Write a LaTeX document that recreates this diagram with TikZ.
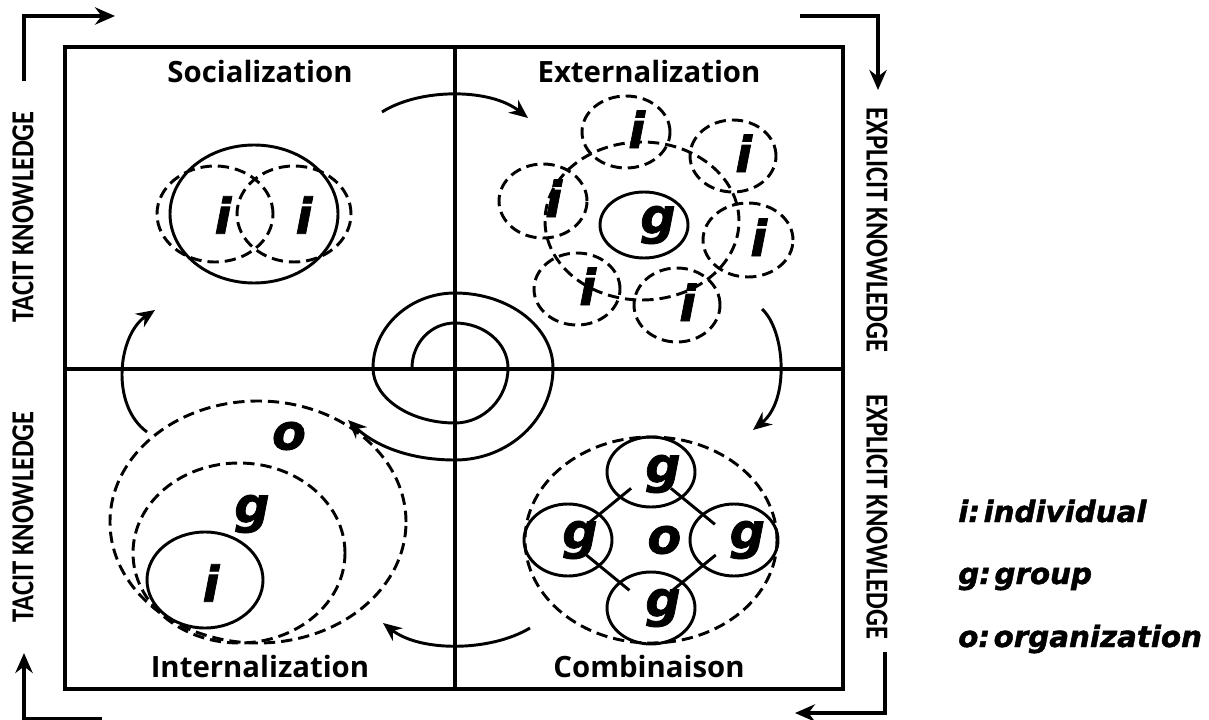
\documentclass[tikz,border=0pt]{standalone}
\usepackage{fontspec}
\usepackage{tikz}
\usetikzlibrary{shapes.geometric, arrows.meta, calc}
\newfontfamily\titlefont{Open Sans}
\newfontfamily\axisfont{Carlito}[FakeStretch=0.83]
\newfontfamily\letterfont{DejaVu Sans}[BoldItalicFeatures={FakeBold=1.5}]
\newcommand{\bigletter}{\letterfont\bfseries\itshape\fontsize{37}{37}\selectfont}

\begin{document}
\begin{tikzpicture}[
    x=0.75pt, y=-0.75pt,
    frame/.style={line width=2.6pt},
    ring/.style 2 args={draw, ellipse, line width=2.2pt, inner sep=0pt,
                        minimum width=#1*1.5pt, minimum height=#2*1.5pt},
    dashring/.style 2 args={ring={#1}{#2}, dash pattern=on 8.5pt off 4.5pt},
    letter/.style={font=\bigletter, inner sep=0pt},
    title/.style={font=\titlefont\bfseries\fontsize{22}{22}\selectfont, anchor=base},
    axis/.style={font=\axisfont\bfseries\fontsize{24}{24}\selectfont},
    legend/.style={font=\letterfont\bfseries\itshape\fontsize{22}{22}\selectfont,
                   anchor=base west, inner sep=0pt},
    link/.style={line width=2.2pt},
    flow/.style={line width=2.2pt, -{Stealth[length=14pt, width=12pt]}},
    bent/.style={line width=2.4pt, -{Stealth[length=15pt, width=13pt]}}
]
    \useasboundingbox (0,0) rectangle (1209,720);

    % Frame and quadrants
    \draw[frame] (65,47) rectangle (843,689);
    \draw[frame] (455,47) -- (455,689);
    \draw[frame] (65,369) -- (843,369);

    \node[title] (soctitle) at (260,83) {Socialization};
    \node[title] (exttitle) at (649,83) {Externalization};
    \node[title] (inttitle) at (260,677) {Internalization};
    \node[title] (combtitle) at (649,677) {Combinaison};

    % Axes
    \node[axis, rotate=90] (tacittop) at (23,217) {TACIT KNOWLEDGE};
    \node[axis, rotate=90] (tacitbot) at (23,517) {TACIT KNOWLEDGE};
    \node[axis, rotate=-90] (explicittop) at (877,230) {EXPLICIT KNOWLEDGE};
    \node[axis, rotate=-90] (explicitbot) at (877,517) {EXPLICIT KNOWLEDGE};

    \coordinate (tacit-a) at (24,81);
    \coordinate (tacit-b) at (115,16);
    \coordinate (explicit-a) at (800,16);
    \coordinate (explicit-b) at (878,90);
    \coordinate (explicit-c) at (885,652);
    \coordinate (explicit-d) at (795,713);
    \coordinate (tacit-c) at (102,719);
    \coordinate (tacit-d) at (24,653);
    \draw[bent] (tacit-a) |- (tacit-b);
    \draw[bent] (explicit-a) -| (explicit-b);
    \draw[bent] (explicit-c) |- (explicit-d);
    \draw[bent] (tacit-c) -| (tacit-d);

    % Socialization
    \node[ring={84}{69}] (soc-pair) at (254,214) {};
    \node[dashring={58}{48}] (soc-i1) at (215,214) {};
    \node[dashring={57}{48}] (soc-i2) at (294,214) {};
    \node[letter] (soc-l1) at (223,215) {i};
    \node[letter] (soc-l2) at (304,215) {i};

    % Externalization
    \node[dashring={97}{79}] (ext-group) at (642,221) {};
    \node[ring={44}{33}] (ext-g) at (644,225) {};
    \node[dashring={44}{36}] (ext-i1) at (626,132) {};
    \node[dashring={43}{36}] (ext-i2) at (733,156) {};
    \node[dashring={44}{37}] (ext-i3) at (543,201) {};
    \node[dashring={45}{37}] (ext-i4) at (748,240) {};
    \node[dashring={43}{36}] (ext-i5) at (577,289) {};
    \node[dashring={43}{37}] (ext-i6) at (677,305) {};
    \node[letter] at ([xshift=10.5pt]ext-g) {g};
    \node[letter] at ([xshift=8pt, yshift=2pt]ext-i1) {i};
    \node[letter] at ([xshift=8pt, yshift=2pt]ext-i2) {i};
    \node[letter] at ([xshift=8pt, yshift=2pt]ext-i3) {i};
    \node[letter] at ([xshift=8pt, yshift=2pt]ext-i4) {i};
    \node[letter] at ([xshift=8pt, yshift=2pt]ext-i5) {i};
    \node[letter] at ([xshift=8pt, yshift=2pt]ext-i6) {i};

    % Combinaison
    \node[dashring={126}{103}] (comb-o) at (651,540) {};
    \node[ring={44}{35}] (comb-gt) at (651,472) {};
    \node[ring={44}{36}] (comb-gl) at (568,540) {};
    \node[ring={44}{36}] (comb-gr) at (734,540) {};
    \node[ring={44}{36}] (comb-gb) at (651,608) {};
    \node[letter] at ([xshift=10pt]comb-o) {o};
    \node[letter] at ([xshift=9pt, yshift=-1.5pt]comb-gt) {g};
    \node[letter] at ([xshift=9pt]comb-gl) {g};
    \node[letter] at ([xshift=10pt]comb-gr) {g};
    \node[letter] at ([xshift=9pt]comb-gb) {g};
    \draw[link] ($(comb-gt)!0.24!(comb-gl)$) -- ($(comb-gt)!0.77!(comb-gl)$);
    \draw[link] ($(comb-gt)!0.24!(comb-gr)$) -- ($(comb-gt)!0.77!(comb-gr)$);
    \draw[link] ($(comb-gl)!0.22!(comb-gb)$) -- ($(comb-gl)!0.74!(comb-gb)$);
    \draw[link] ($(comb-gr)!0.22!(comb-gb)$) -- ($(comb-gr)!0.74!(comb-gb)$);

    % Internalization
    \node[dashring={148}{121}] (int-o) at (258,522) {};
    \node[dashring={106}{90}] (int-g) at (239,553) {};
    \node[ring={58}{48}] (int-i) at (205,580) {};
    \node[letter] (int-lo) at (289,436) {o};
    \node[letter] (int-lg) at (252,514) {g};
    \node[letter] (int-li) at (211,583) {i};

    % Spiral cycle
    \coordinate (soc-out) at (382,112);
    \coordinate (ext-in) at (528,118);
    \coordinate (ext-out) at (762,309);
    \coordinate (comb-in) at (753,430);
    \coordinate (comb-out) at (530,628);
    \coordinate (int-in) at (383,623);
    \coordinate (int-out) at (147,432);
    \coordinate (soc-in) at (155,310);
    \draw[flow] (soc-out) .. controls (420,88) and (490,88) .. (ext-in);
    \draw[flow] (ext-out) .. controls (785,330) and (790,400) .. (comb-in);
    \draw[flow] (comb-out) .. controls (490,652) and (420,652) .. (int-in);
    \draw[flow] (int-out) .. controls (110,405) and (118,335) .. (soc-in);

    \coordinate (spiral-in) at (412,368);
    \coordinate (spiral-out) at (348,420);
    \draw[flow] (spiral-in) .. controls (412,343) and (431,323) .. (455,323)
        .. controls (484,323) and (508,343) .. (508,368)
        .. controls (508,398) and (484,423) .. (455,423)
        .. controls (410,423) and (373,398) .. (373,368)
        .. controls (373,327) and (410,293) .. (455,293)
        .. controls (509,293) and (553,327) .. (553,368)
        .. controls (553,419) and (509,460) .. (455,460)
        .. controls (405,460) and (372,443) .. (spiral-out);

    % Legend
    \node[legend] (leg-i) at (958,522) {i:\hspace{0.12em}individual};
    \node[legend] (leg-g) at (958,584) {g:\hspace{0.12em}group};
    \node[legend] (leg-o) at (958,647) {o:\hspace{0.12em}organization};
\end{tikzpicture}
\end{document}
